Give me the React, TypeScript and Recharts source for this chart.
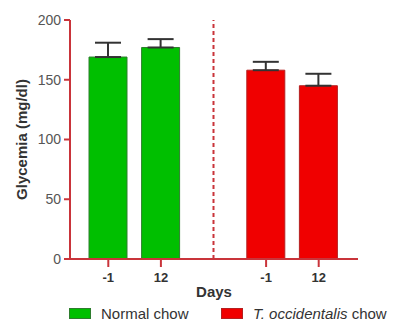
import { BarChart, Bar, XAxis, YAxis, Cell, ErrorBar, ReferenceLine } from "recharts"

const days = ["-1", "12", "", "-1", "12"]
const groups = ["normal", "normal", "gap", "tocc", "tocc"]
const glycemia = [169, 177, null, 158, 145]
const sem = [12, 7, null, 7, 10]
const yTicks = [0, 50, 100, 150, 200]

const AXIS = "#c9343a"
const FILL: Record<string, string> = { normal: "#00bf00", tocc: "#f00000" }
const EDGE: Record<string, string> = { normal: "#2e7d2e", tocc: "#b52020" }

const data = days.map((d, i) => ({
  key: `${groups[i]}-${i}`,
  day: d,
  group: groups[i],
  value: glycemia[i],
  err: sem[i] == null ? null : [0, sem[i]],
}))

function DayTick({ x, payload }: any) {
  const row = data.find((r) => r.key === payload.value)
  if (!row || !row.day) return null
  // axis line sits at y=260
  return (
    <g>
      <line x1={x} x2={x} y1={260} y2={267} stroke={AXIS} strokeWidth={2} />
      <text x={x} y={282} textAnchor="middle" fontSize={13} fontWeight="bold" fill="#333">
        {row.day}
      </text>
    </g>
  )
}

export default function App() {
  const font = "'Liberation Sans', Arial, sans-serif"
  return (
    <div style={{ position: "absolute", left: 0, top: 0, width: 399, height: 321, background: "#fff", fontFamily: font }}>
      <BarChart
        width={399}
        height={305}
        data={data}
        margin={{ top: 20, right: 41, left: 0, bottom: 2 }}
        barSize={38}
        style={{ fontFamily: font }}
      >
        <XAxis
          dataKey="key"
          height={44}
          padding={{ left: 12, right: 13 }}
          axisLine={{ stroke: AXIS, strokeWidth: 2 }}
          tickLine={false}
          tick={<DayTick />}
          interval={0}
          label={{ value: "Days", position: "insideBottom", offset: 6, fontSize: 15, fontWeight: "bold", fill: "#333" }}
        />
        <YAxis
          width={70}
          domain={[0, 200]}
          ticks={yTicks}
          interval={0}
          axisLine={{ stroke: AXIS, strokeWidth: 2 }}
          tickLine={{ stroke: AXIS, strokeWidth: 2 }}
          tickSize={6}
          tickMargin={3}
          tick={{ fontSize: 14, fill: "#555" }}
          label={{ value: "Glycemia (mg/dl)", angle: -90, position: "center", dx: -13, fontSize: 15, fontWeight: "bold", fill: "#333" }}
        />
        <ReferenceLine x="gap-2" stroke={AXIS} strokeWidth={2} strokeDasharray="4 3" />
        <Bar dataKey="value" isAnimationActive={false} strokeWidth={1}>
          {data.map((r) => (
            <Cell key={r.key} fill={FILL[r.group] || "none"} stroke={EDGE[r.group] || "none"} />
          ))}
          <ErrorBar dataKey="err" width={13} stroke="#333" strokeWidth={2} direction="y" isAnimationActive={false} />
        </Bar>
      </BarChart>
      <div style={{ position: "absolute", top: 305, left: 69, display: "flex", alignItems: "center", fontSize: 15, color: "#333", whiteSpace: "nowrap" }}>
        <span style={{ display: "inline-block", width: 20, height: 9, background: FILL.normal, border: `1px solid ${EDGE.normal}` }} />
        <span style={{ marginLeft: 10, width: 120 }}>Normal chow</span>
        <span style={{ display: "inline-block", width: 20, height: 9, background: FILL.tocc, border: `1px solid ${EDGE.tocc}` }} />
        <span style={{ marginLeft: 10 }}>
          <i>T. occidentalis</i> chow
        </span>
      </div>
    </div>
  )
}
